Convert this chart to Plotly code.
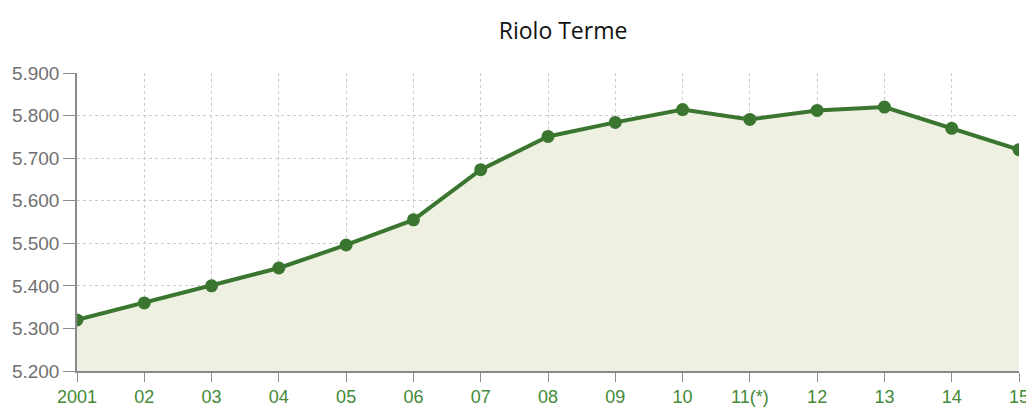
import plotly.graph_objects as go

years = ["2001", "02", "03", "04", "05", "06", "07", "08", "09", "10", "11(*)", "12", "13", "14", "15"]
population = [5320, 5360, 5400, 5442, 5496, 5555, 5673, 5751, 5784, 5814, 5791, 5812, 5820, 5770, 5720]
y_ticks = [5200, 5300, 5400, 5500, 5600, 5700, 5800, 5900]
y_labels = ["5.200", "5.300", "5.400", "5.500", "5.600", "5.700", "5.800", "5.900"]

x_idx = list(range(len(years)))

fig = go.Figure()
fig.add_trace(go.Scatter(
    x=x_idx, y=population, mode="lines+markers",
    fill="tozeroy", fillcolor="#eef0e2",
    line=dict(color="#3a7630", width=4),
    marker=dict(color="#3a7630", size=13),
    hoverinfo="x+y",
))

# page body has an 8px default margin, so the figure is sized to fit the window
fig.update_layout(
    width=1026, height=407,
    margin=dict(l=69, r=15, t=65, b=44),
    paper_bgcolor="white", plot_bgcolor="white",
    showlegend=False,
    title=dict(text="Riolo Terme", x=0.516, xref="paper", xanchor="center", y=0.943, yanchor="middle",
               font=dict(family="Open Sans, Lato, sans-serif", size=23, color="#111111")),
    xaxis=dict(
        range=[0, len(years) - 1], tickmode="array", tickvals=x_idx, ticktext=years,
        showgrid=True, gridcolor="#cccccc", griddash="dot", gridwidth=1,
        showline=True, linecolor="#8a8a8a", linewidth=1.5,
        ticks="outside", ticklen=9, tickcolor="#8a8a8a",
        tickfont=dict(family="Liberation Sans, Arial, sans-serif", size=18, color="#448a38"),
        zeroline=False, fixedrange=True, automargin=False,
    ),
    yaxis=dict(
        range=[5200, 5900], tickmode="array", tickvals=y_ticks, ticktext=y_labels,
        showgrid=True, gridcolor="#cccccc", griddash="dot", gridwidth=1,
        showline=True, linecolor="#8a8a8a", linewidth=1.5,
        ticks="outside", ticklen=12, tickcolor="#8a8a8a",
        tickfont=dict(family="Liberation Sans, Arial, sans-serif", size=19, color="#707070"),
        zeroline=False, fixedrange=True, automargin=False,
    ),
)

fig.write_html("out.html")
